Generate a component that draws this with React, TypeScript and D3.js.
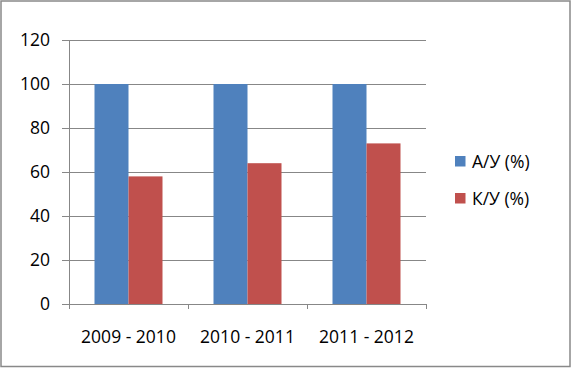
import React from 'react';
import * as d3 from 'd3';

// chart data
const periods = ['2009 - 2010', '2010 - 2011', '2011 - 2012'];
const seriesNames = ['А/У (%)', 'К/У (%)'];
const auValues = [100, 100, 100];
const kuValues = [58, 64, 73];
const yTicks = [0, 20, 40, 60, 80, 100, 120];
const colors = ['#4F81BD', '#C0504D'];

export default function App() {
  const width = 572;
  const height = 368;
  const left = 69;
  const right = 426;
  const top = 40;
  const bottom = 304;
  const font = '"Open Sans", "Liberation Sans", sans-serif';
  const fs = 17.5;

  // x axis, one band per period
  const x = d3.scaleBand().domain(periods).range([left, right]).paddingInner(0).paddingOuter(0);
  // bars inside each band (excel gap width 75%)
  const inner = d3.scaleBand().domain(seriesNames).range([0, x.bandwidth()]).paddingOuter(0.75).paddingInner(0);
  const y = d3.scaleLinear().domain([0, 120]).range([bottom, top]);

  const series = [auValues, kuValues];
  const gridColor = '#878787';

  return (
    <div style={{ position: 'fixed', left: 0, top: 0 }}>
      <svg width={width} height={height} style={{ display: 'block', background: '#fff' }}>
        <rect x={1} y={1} width={width - 3} height={height - 2.5} fill="#fff" stroke="#898989" strokeWidth={1.5} />

        {/* gridlines + y ticks */}
        {yTicks.map(t => (
          <g key={t}>
            <line x1={left - 7} x2={right} y1={Math.round(y(t)) + 0.5} y2={Math.round(y(t)) + 0.5} stroke={gridColor} strokeWidth={1} />
            <text x={50} y={y(t)} dy="0.36em" textAnchor="end" fontFamily={font} fontSize={fs} fill="#000">{t}</text>
          </g>
        ))}

        {/* y axis line */}
        <line x1={left + 0.5} x2={left + 0.5} y1={top} y2={bottom} stroke={gridColor} />

        {/* bars */}
        {series.map((vals, si) => (
          <g key={si} fill={colors[si]}>
            {periods.map((p, i) => (
              <rect
                key={p}
                x={(x(p) as number) + (inner(seriesNames[si]) as number)}
                y={y(vals[i])}
                width={inner.bandwidth()}
                height={bottom - y(vals[i])}
              />
            ))}
          </g>
        ))}

        {/* x axis */}
        <line x1={left} x2={right} y1={bottom + 0.5} y2={bottom + 0.5} stroke={gridColor} />
        {[...periods.map(p => x(p) as number), right].map((tx, i) => (
          <line key={i} x1={Math.round(tx) + 0.5} x2={Math.round(tx) + 0.5} y1={bottom} y2={bottom + 5} stroke={gridColor} />
        ))}
        {periods.map(p => (
          <text key={p} x={(x(p) as number) + x.bandwidth() / 2} y={337} dy="0.36em" textAnchor="middle" fontFamily={font} fontSize={fs} fill="#000">{p}</text>
        ))}

        {/* legend */}
        {seriesNames.map((name, i) => (
          <g key={name} transform={`translate(455, ${156 + i * 37})`}>
            <rect x={0} y={0} width={10.5} height={10.5} fill={colors[i]} />
            <text x={17} y={5.5} dy="0.36em" fontFamily={font} fontSize={fs} fill="#000">{name}</text>
          </g>
        ))}
      </svg>
    </div>
  );
}
